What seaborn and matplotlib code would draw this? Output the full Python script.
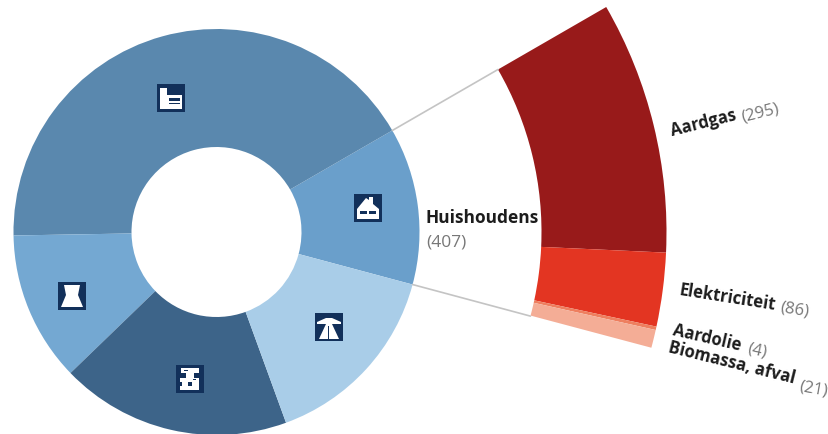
import numpy as np
import matplotlib.pyplot as plt
from matplotlib.patches import Rectangle, Polygon
import seaborn as sns

# sectors of the ring, counter clockwise from the start angle
sector_names = ['Huishoudens', 'Industrie', 'Elektriciteit', 'Raffinage', 'Verkeer']
sector_values = [407, 1365, 389, 597, 497]
sector_colors = ['#6a9fcb', '#5a88ae', '#74a8d2', '#3d6489', '#a9cde8']

# breakdown of Huishoudens, clockwise from the top
carrier_names = ['Aardgas', 'Elektriciteit', 'Aardolie', 'Biomassa, afval']
carrier_values = [295, 86, 4, 21]
carrier_colors = ['#981a1a', '#e33522', '#ee7f5f', '#f4ad96']

sns.set_theme(style='white')
plt.rcParams['font.family'] = ['Open Sans', 'DejaVu Sans']

NAVY = '#12305a'
H = 434
cx, cy = 216.5, H - 232
r_out, r_in = 203, 85
r2_in, r2_out = 325, 450
ang_top, ang_bot = 30, -15


def flip(y):
    return H - y


def icon(ax, x, y, parts, cuts=()):
    # x, y is the top left corner in picture pixels, parts are in a 28 px box
    ax.add_patch(Rectangle((x, flip(y + 28)), 28, 28, color=NAVY, lw=0, zorder=5))
    for p in parts:
        pts = [(x + a, flip(y + b)) for a, b in p]
        ax.add_patch(Polygon(pts, closed=True, color='white', lw=0, zorder=6))
    for p in cuts:
        pts = [(x + a, flip(y + b)) for a, b in p]
        ax.add_patch(Polygon(pts, closed=True, color=NAVY, lw=0, zorder=7))


def box(x0, y0, x1, y1):
    return [(x0, y0), (x1, y0), (x1, y1), (x0, y1)]


fig = plt.figure(figsize=(8.29, 4.34), dpi=100)
ax = fig.add_axes([0, 0, 1, 1])

ax.pie(sector_values, colors=sector_colors, startangle=ang_bot, center=(cx, cy),
       radius=r_out, wedgeprops=dict(width=r_out - r_in, lw=0), frame=True)

# outer ring covers only the 45 degrees of Huishoudens, rest is left empty
total = sum(sector_values)
rest = total - sum(carrier_values)
wedges, _ = ax.pie(carrier_values + [rest], colors=carrier_colors + ['white'],
                   startangle=ang_top, counterclock=False, center=(cx, cy),
                   radius=r2_out, wedgeprops=dict(width=r2_out - r2_in, lw=0), frame=True)
wedges[-1].set_visible(False)

for a in [ang_top, ang_bot]:
    t = np.radians(a)
    ax.plot([cx + r_out * np.cos(t), cx + r2_in * np.cos(t)],
            [cy + r_out * np.sin(t), cy + r2_in * np.sin(t)], color='#c4c4c4', lw=1.2)

# icons
icon(ax, 157, 84, [box(3, 4, 10, 25), box(10, 11, 25, 25)],
     cuts=[box(12, 14, 23, 17), box(12, 19, 23, 20)])
icon(ax, 354, 194, [[(3, 15), (12, 4), (15, 6), (15, 3), (19, 3), (19, 10), (25, 15), (25, 25), (3, 25)]],
     cuts=[box(6, 17, 13, 20), box(15, 17, 22, 20)])
icon(ax, 315, 313, [[(2, 9), (11, 5), (17, 5), (26, 9), (26, 11), (2, 11)],
                    [(11, 11), (17, 11), (24, 26), (4, 26)]],
     cuts=[box(13.5, 13, 14.5, 26)])
icon(ax, 176, 365, [box(5, 3, 23, 8), box(10, 8, 18, 13), box(4, 13, 23, 17),
                    box(6, 17, 12, 21), box(16, 17, 23, 21), box(4, 21, 23, 25)],
     cuts=[box(8, 5, 12, 6), box(17, 14, 20, 15)])
icon(ax, 58, 282, [[(6, 3), (22, 3), (20, 13), (25, 25), (3, 25), (8, 13)]])

# labels, bold name and grey value are separate texts
dark = '#1c1c1c'
grey = '#777777'
labels = [
    ('Aardgas', 672, 136, 14, 'bold', dark),
    ('(295)', 743, 122, 14, 'normal', grey),
    ('Elektriciteit', 679, 295, -9, 'bold', dark),
    ('(86)', 780, 312, -9, 'normal', grey),
    ('Aardolie', 672, 335, -13, 'bold', dark),
    ('(4)', 747, 353, -13, 'normal', grey),
    ('Biomassa, afval', 667, 352, -14, 'bold', dark),
    ('(21)', 799, 391, -10, 'normal', grey),
]
for s, x, y, rot, w, c in labels:
    ax.text(x, flip(y), s, rotation=rot, rotation_mode='anchor', fontsize=12,
            fontweight=w, color=c, ha='left', va='baseline')
ax.text(426, flip(223), 'Huishoudens', fontsize=12.5, fontweight='bold', color=dark)
ax.text(426, flip(247), '(407)', fontsize=12.5, color=grey)

ax.set_xlim(0, 829)
ax.set_ylim(0, H)
ax.set_aspect('equal')
ax.set_xticks([])
ax.set_yticks([])
ax.axis('off')

fig.savefig('out.png', dpi=100)
